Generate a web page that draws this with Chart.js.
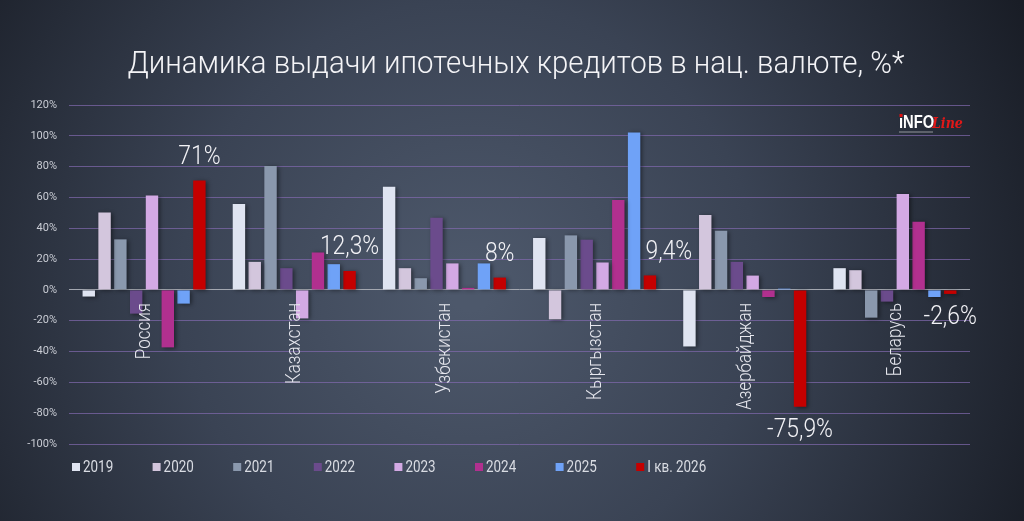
<!DOCTYPE html>
<html>
<head>
<meta charset="utf-8">
<script src="https://cdn.jsdelivr.net/npm/chart.js@4.4.1/dist/chart.umd.min.js"></script>
<style>
html,body{margin:0;padding:0;background:#2a303c;}
#wrap{width:1024px;height:521px;position:relative;}
</style>
</head>
<body>
<div id="wrap"><canvas id="c" width="1024" height="521"></canvas></div>
<script>
const title = 'Динамика выдачи ипотечных кредитов в нац. валюте, %*';
const categories = ['Россия','Казахстан','Узбекистан','Кыргызстан','Азербайджан','Беларусь'];
const seriesNames = ['2019','2020','2021','2022','2023','2024','2025','I кв. 2026'];
const s2019 = [-4.3, 55.8, 66.9, 33.7, -36.7, 14.1];
const s2020 = [50.2, 18.2, 14.1, -19.1, 48.6, 12.8];
const s2021 = [32.8, 80.4, 7.6, 35.4, 38.4, -18.0];
const s2022 = [-15.4, 14.1, 46.9, 32.6, 18.2, -7.6];
const s2023 = [61.2, -18.5, 17.2, 17.8, 9.3, 62.3];
const s2024 = [-37.3, 24.3, 1.3, 58.4, -4.6, 44.3];
const s2025 = [-8.9, 16.7, 17.2, 102.2, 0.8, -4.6];
const s2026 = [71, 12.3, 8, 9.4, -75.9, -2.6];
const s2026Labels = ['71%','12,3%','8%','9,4%','-75,9%','-2,6%'];
const yTicks = {min:-100, max:120, step:20};
const colors = ['#dfe4f1','#d3c6dd','#8a98ad','#6b4b8c','#d3a9e4','#b1308f','#6fa2f7','#c40000'];

const allSeries = [s2019,s2020,s2021,s2022,s2023,s2024,s2025,s2026];

function drawScaled(ctx, text, x, y, sx){
  ctx.save();
  ctx.translate(x, y);
  ctx.scale(sx, 1);
  ctx.fillText(text, 0, 0);
  ctx.restore();
}

const decor = {
  id:'decor',
  beforeDraw(chart){
    const ctx = chart.ctx;
    ctx.save();
    const g = ctx.createRadialGradient(470, 290, 20, 470, 290, 620);
    g.addColorStop(0, '#4d586b');
    g.addColorStop(0.45, '#3a4354');
    g.addColorStop(1, '#191d26');
    ctx.fillStyle = g;
    ctx.fillRect(0,0,chart.width,chart.height);
    ctx.restore();
  },
  beforeDatasetsDraw(chart){
    const ctx = chart.ctx;
    ctx.save();
    ctx.shadowColor = 'rgba(0,0,0,0.45)';
    ctx.shadowBlur = 4;
    ctx.shadowOffsetX = 2;
    ctx.shadowOffsetY = 1;
  },
  afterDatasetsDraw(chart){
    const ctx = chart.ctx;
    ctx.restore();
    // value labels for last series
    const meta = chart.getDatasetMeta(7);
    ctx.save();
    ctx.fillStyle = '#f2f2f6';
    ctx.font = '300 26px Roboto';
    ctx.textAlign = 'center';
    ctx.textBaseline = 'middle';
    const dx = [0,0,0,19,0,0];
    meta.data.forEach((bar, i) => {
      const v = s2026[i];
      const y = v >= 0 ? bar.y - 23 : bar.y + 24;
      drawScaled(ctx, s2026Labels[i], bar.x + dx[i], y, 0.88);
    });
    ctx.restore();
    // category labels (rotated, inside plot)
    const xs = chart.scales.x;
    const zeroY = chart.scales.y.getPixelForValue(0);
    ctx.save();
    ctx.fillStyle = '#e6e7ee';
    ctx.font = '300 20px Roboto';
    ctx.textAlign = 'right';
    ctx.textBaseline = 'middle';
    categories.forEach((c, i) => {
      const x = xs.getPixelForValue(i) + 1;
      ctx.save();
      ctx.translate(x, zeroY + 13);
      ctx.rotate(-Math.PI/2);
      ctx.scale(0.85, 1);
      ctx.fillText(c, 0, 0);
      ctx.restore();
    });
    ctx.restore();
  },
  afterDraw(chart){
    const ctx = chart.ctx;
    // title
    ctx.save();
    ctx.fillStyle = '#f4f4f7';
    ctx.font = '300 32px Roboto';
    ctx.textAlign = 'center';
    ctx.textBaseline = 'alphabetic';
    const w = ctx.measureText(title).width;
    drawScaled(ctx, title, 516, 73, 777 / w);
    ctx.restore();
    // legend
    ctx.save();
    ctx.font = '16px Roboto';
    ctx.textBaseline = 'middle';
    ctx.textAlign = 'left';
    chart.data.datasets.forEach((ds, i) => {
      const bx = 72 + i * 80.6;
      ctx.fillStyle = ds.backgroundColor;
      ctx.fillRect(bx, 463, 8, 8);
      ctx.fillStyle = '#d9dce3';
      drawScaled(ctx, ds.label, bx + 11, 467.5, 0.84);
    });
    ctx.restore();
    // logo
    ctx.save();
    ctx.textBaseline = 'alphabetic';
    ctx.textAlign = 'left';
    ctx.font = 'bold 18px "Liberation Sans"';
    ctx.fillStyle = '#ffffff';
    drawScaled(ctx, 'iNFO', 899, 128, 0.82);
    ctx.fillStyle = '#e01010';
    ctx.fillRect(899.5, 114, 3, 3);
    ctx.font = 'italic bold 14px "DejaVu Serif"';
    ctx.fillStyle = '#e01818';
    drawScaled(ctx, 'Line', 932, 128, 0.9);
    ctx.globalAlpha = 0.25;
    ctx.fillStyle = '#ffffff';
    ctx.fillRect(899, 131, 34, 2);
    ctx.restore();
  }
};

const datasets = allSeries.map((arr, i) => ({
  label: seriesNames[i],
  data: arr,
  backgroundColor: colors[i],
  borderWidth: 0,
  categoryPercentage: 0.842,
  barPercentage: 0.785
}));

new Chart(document.getElementById('c'), {
  type: 'bar',
  data: { labels: categories, datasets },
  plugins: [decor],
  options: {
    responsive: false,
    animation: false,
    devicePixelRatio: 1,
    layout: { padding: { top: 105, bottom: 77, left: 0, right: 54 } },
    plugins: { legend: { display: false }, tooltip: { enabled: false }, title: { display: false } },
    scales: {
      x: { display: false, grid: { display: false } },
      y: {
        min: yTicks.min, max: yTicks.max,
        afterFit(scale){ scale.width = 69; },
        border: { display: false },
        grid: {
          drawTicks: false,
          lineWidth: 1,
          color: (c) => c.tick && c.tick.value === 0 ? '#a3a7b0' : 'rgba(130,105,175,0.7)'
        },
        ticks: {
          stepSize: yTicks.step,
          padding: 12,
          color: '#c9ccd4',
          font: { family: 'Roboto', size: 11 },
          callback: (v) => v + '%'
        }
      }
    }
  }
});
</script>
</body>
</html>
